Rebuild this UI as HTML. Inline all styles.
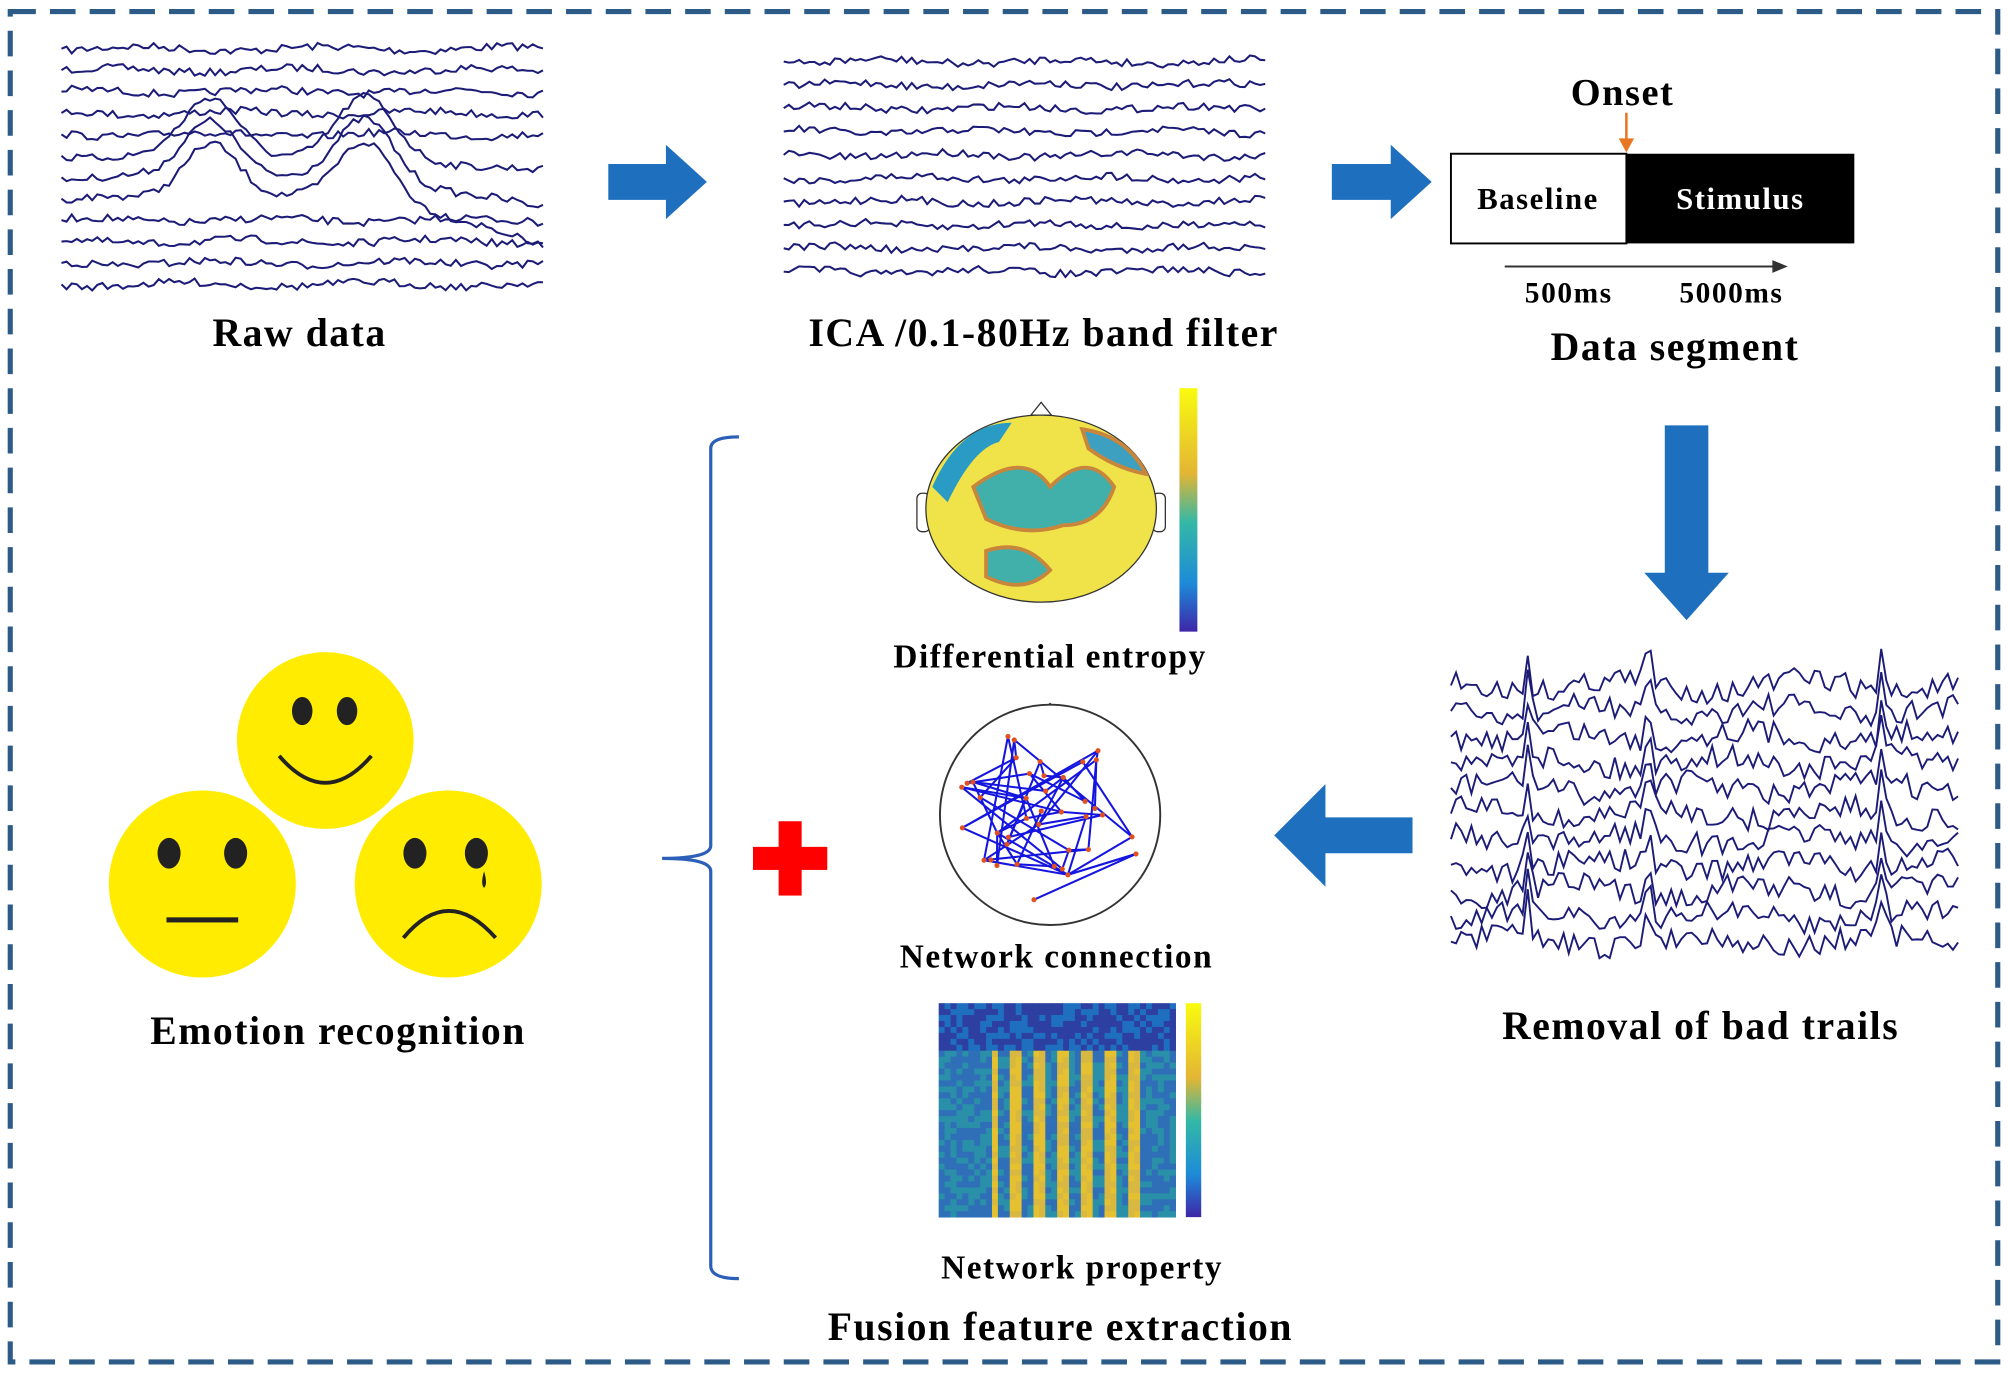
<!DOCTYPE html>
<html><head><meta charset="utf-8"><style>
html,body{margin:0;padding:0;background:#fff;}
svg{display:block;}
text{font-family:"Liberation Serif",serif;font-weight:bold;fill:#000;letter-spacing:1.2px;}
</style></head><body>
<svg id="s" width="2008" height="1376" viewBox="0 0 1568 1074" preserveAspectRatio="none" xmlns="http://www.w3.org/2000/svg">
<rect x="8" y="9" width="1552" height="1054" fill="none" stroke="#2d5b88" stroke-width="4" stroke-dasharray="20,11"/>
<g id="w1" fill="none" stroke="#1c1c78" stroke-width="1.6"></g>
<g id="w2" fill="none" stroke="#1c1c78" stroke-width="1.6"></g>
<g id="w3" fill="none" stroke="#1c1c78" stroke-width="1.5"></g>
<text x="234" y="270" font-size="31" text-anchor="middle">Raw data</text>
<text x="815" y="270" font-size="31" text-anchor="middle">ICA /0.1-80Hz band filter</text>
<polygon points="475,128 520,128 520,113 552,142 520,171 520,156 475,156" fill="#1f6fbf"/>
<polygon points="1040,128 1086,128 1086,113 1118,142 1086,171 1086,156 1040,156" fill="#1f6fbf"/>
<polygon points="1300,332 1334,332 1334,447 1350,447 1317,484 1284,447 1300,447" fill="#1f6fbf"/>
<polygon points="1103,638 1035,638 1035,612 995,652 1035,692 1035,666 1103,666" fill="#1f6fbf"/>
<text x="1267" y="82" font-size="30" text-anchor="middle">Onset</text>
<line x1="1270" y1="88" x2="1270" y2="112" stroke="#e87722" stroke-width="2"/>
<polygon points="1264,108 1276,108 1270,119" fill="#e87722"/>
<rect x="1133" y="120" width="137" height="70" fill="#fff" stroke="#000" stroke-width="1.5"/>
<rect x="1270" y="120" width="178" height="70" fill="#000"/>
<text x="1201" y="163" font-size="24" text-anchor="middle">Baseline</text>
<text x="1359" y="163" font-size="24" text-anchor="middle" style="fill:#fff">Stimulus</text>
<line x1="1175" y1="208" x2="1388" y2="208" stroke="#333" stroke-width="1.5"/>
<polygon points="1384,203 1396,208 1384,213" fill="#333"/>
<text x="1225" y="236" font-size="23" text-anchor="middle">500ms</text>
<text x="1352" y="236" font-size="23" text-anchor="middle">5000ms</text>
<text x="1308" y="281" font-size="31" text-anchor="middle">Data segment</text>
<text x="1328" y="811" font-size="31" text-anchor="middle">Removal of bad trails</text>
<g>
<polygon points="805,324 813,314 821,324" fill="#fff" stroke="#333"/>
<rect x="716" y="385" width="10" height="30" rx="4" fill="#fff" stroke="#333"/>
<rect x="900" y="385" width="10" height="30" rx="4" fill="#fff" stroke="#333"/>
<ellipse cx="813" cy="397" rx="90" ry="73" fill="#f0e34a" stroke="#333"/>
<path d="M728,380 Q750,330 790,330 L780,345 Q760,350 740,392 Z" fill="#2a9bc4"/>
<path d="M760,380 Q800,350 820,380 Q850,350 870,380 Q860,410 830,410 Q800,420 770,405 Z" fill="#41b0aa" stroke="#c8863c" stroke-width="3"/>
<path d="M770,430 Q800,420 820,445 Q800,465 770,450 Z" fill="#41b0aa" stroke="#c8863c" stroke-width="3"/>
<path d="M845,335 Q880,340 895,370 Q870,365 850,350 Z" fill="#3da0c0" stroke="#c8863c" stroke-width="3"/>
<rect x="921" y="303" width="14" height="190" fill="url(#cb)"/>
</g>
<defs><linearGradient id="cb" x1="0" y1="0" x2="0" y2="1">
<stop offset="0" stop-color="#f9fb0e"/><stop offset="0.35" stop-color="#e3b534"/><stop offset="0.55" stop-color="#34b8a6"/><stop offset="0.8" stop-color="#1d8bd8"/><stop offset="1" stop-color="#3e26a8"/></linearGradient></defs>
<text x="820" y="521" font-size="26" text-anchor="middle">Differential entropy</text>
<polygon points="812,557 820,549 828,557" fill="#fff" stroke="#333"/>
<circle cx="820" cy="636" r="86" fill="#fff" stroke="#333" stroke-width="1.5"/>
<g id="net" stroke="#1515e0" stroke-width="1.6"></g>
<text x="825" y="755" font-size="26" text-anchor="middle">Network connection</text>
<g id="mat"></g>
<rect x="926" y="783" width="12" height="167" fill="url(#cb)"/>
<text x="845" y="998" font-size="26" text-anchor="middle">Network property</text>
<text x="828" y="1046" font-size="31" text-anchor="middle">Fusion feature extraction</text>
<path d="M577,341 Q555,341 555,350 L555,660 Q555,670 517,670 Q555,670 555,680 L555,988 Q555,998 577,998" fill="none" stroke="#2b5fb8" stroke-width="2.5"/>
<rect x="608" y="641" width="18" height="58" fill="#f00"/>
<rect x="588" y="661" width="58" height="18" fill="#f00"/>
<circle cx="254" cy="578" r="69" fill="#ffec00"/>
<ellipse cx="236" cy="555" rx="8" ry="11" fill="#222"/><ellipse cx="271" cy="555" rx="8" ry="11" fill="#222"/>
<path d="M218,590 Q254,632 290,590" fill="none" stroke="#222" stroke-width="3"/>
<circle cx="158" cy="690" r="73" fill="#ffec00"/>
<ellipse cx="132" cy="666" rx="9" ry="12" fill="#222"/><ellipse cx="184" cy="666" rx="9" ry="12" fill="#222"/>
<rect x="130" y="716" width="56" height="4" fill="#222"/>
<circle cx="350" cy="690" r="73" fill="#ffec00"/>
<ellipse cx="324" cy="666" rx="9" ry="12" fill="#222"/><ellipse cx="372" cy="666" rx="9" ry="12" fill="#222"/>
<path d="M378,680 Q375,690 378,693 Q381,690 378,680" fill="#222"/>
<path d="M315,732 Q350,690 387,732" fill="none" stroke="#222" stroke-width="3"/>
<text x="264" y="815" font-size="31" text-anchor="middle">Emotion recognition</text>
</svg>
<script>
var seed=7;function r(){seed=(seed*16807)%2147483647;return seed/2147483647;}
function waves(id,x0,x1,y0,y1,n,amp,step,extra){var g=document.getElementById(id),h='';for(var i=0;i<n;i++){var y=y0+(y1-y0)*i/(n-1),d='M'+x0+','+y;for(var x=x0+step;x<=x1;x+=step){var yy=y+(r()-0.5)*amp+Math.sin(x/23+i)*amp*0.3;if(extra)yy+=extra(x,i);d+=' L'+x+','+yy.toFixed(1);}h+='<path d="'+d+'"/>';}g.innerHTML=h;}
waves('w1',48,425,38,222,12,6,4,function(x,i){if(i>=5&&i<=7){var b=Math.exp(-Math.pow((x-165)/30,2))*45+Math.exp(-Math.pow((x-285)/30,2))*45;return -b+(x>300?(x-300)*0.1*(i-4):0);}return 0;});
waves('w2',612,990,48,212,10,6,4,null);
waves('w3',1133,1530,535,735,11,18,4,function(x,i){var s=0;[1193,1287,1470].forEach(function(c){s+=Math.exp(-Math.pow((x-c)/3,2))*-30;});return s;});
var net=document.getElementById('net'),h='',pts=[];for(var i=0;i<40;i++){var a=r()*6.283,d=Math.sqrt(r())*78;pts.push([820+Math.cos(a)*d,636+Math.sin(a)*d*0.9]);}
for(var i=0;i<55;i++){var p=pts[Math.floor(r()*40)],q=pts[Math.floor(r()*40)];if(p[1]>690&&q[1]>690)continue;h+='<line x1="'+p[0].toFixed(1)+'" y1="'+p[1].toFixed(1)+'" x2="'+q[0].toFixed(1)+'" y2="'+q[1].toFixed(1)+'"/>';}
pts.forEach(function(p){h+='<circle cx="'+p[0].toFixed(1)+'" cy="'+p[1].toFixed(1)+'" r="2" fill="#e05020" stroke="none"/>';});net.innerHTML=h;
var m=document.getElementById('mat'),h2='',cols=40,rows=36,w=185/cols,hh=167/rows;
for(var i=0;i<rows;i++)for(var j=0;j<cols;j++){var v=r();var c;if(i<8)c=v<0.6?'#2d3fa0':'#1f6fc0';else if(j>8&&j<36&&(j%4<2))c=v<0.5?'#d8b840':'#e5c030';else c=v<0.5?'#2a8fa8':'#2f6fb8';h2+='<rect x="'+(733+j*w).toFixed(2)+'" y="'+(783+i*hh).toFixed(2)+'" width="'+(w+0.3).toFixed(2)+'" height="'+(hh+0.3).toFixed(2)+'" fill="'+c+'"/>';}
m.innerHTML=h2;
</script>
</body></html>
